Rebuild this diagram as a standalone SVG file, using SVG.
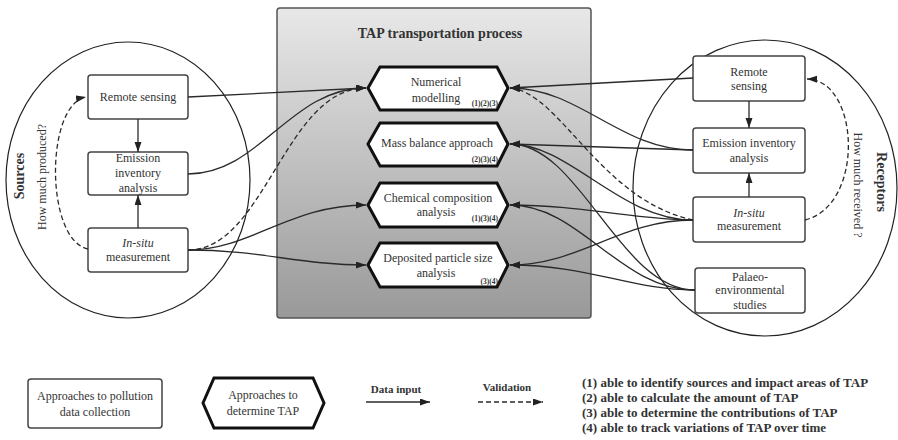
<svg xmlns="http://www.w3.org/2000/svg" width="898" height="440" viewBox="0 0 898 440">
<defs>
<linearGradient id="g" x1="0" y1="0" x2="0" y2="1">
<stop offset="0" stop-color="#e8e8e8"/>
<stop offset="1" stop-color="#999"/>
</linearGradient>
<marker id="ah" markerUnits="userSpaceOnUse" markerWidth="11" markerHeight="8" refX="10" refY="3.5" orient="auto">
<path d="M0,0 L10,3.5 L0,7 z" fill="#222"/>
</marker>
<style>
text{font-family:"Liberation Serif","Times New Roman",serif;fill:#333;text-anchor:middle}
.t{font-size:12px}
.b{font-weight:bold}
.n{font-size:13px;font-weight:bold;text-anchor:start}
.s{font-size:7.5px;font-weight:bold;text-anchor:end}
.box{fill:#fff;stroke:#444;stroke-width:1.5}
.hex{fill:#fff;stroke:#111;stroke-width:3;stroke-linejoin:miter}
.ell{fill:none;stroke:#222;stroke-width:1.2}
.c{fill:none;stroke:#2a2a2a;stroke-width:1.3;marker-end:url(#ah)}
.d{stroke-dasharray:5,3}
</style>
</defs>
<rect width="898" height="440" fill="#fff"/>

<g id="sources-region">
<ellipse class="ell" cx="128" cy="180" rx="122" ry="138"/>
<text class="b" style="font-size:14px" transform="translate(24,176) rotate(-90)">Sources</text>
<text class="t" transform="translate(46,177) rotate(-90)">How much produced?</text>
</g>
<g id="receptors-region">
<ellipse class="ell" cx="765" cy="188" rx="132" ry="148"/>
<text class="b" style="font-size:14px" transform="translate(877,182) rotate(90)">Receptors</text>
<text class="t" transform="translate(854,185) rotate(90)">How much received ?</text>
</g>
<g id="tap-process">
<rect x="277" y="8" width="314" height="310" rx="3" fill="url(#g)" stroke="#555" stroke-width="1.5"/>
<text class="b" style="font-size:14px" x="440" y="38">TAP transportation process</text>
</g>

<g id="src-remote"><rect class="box" x="88" y="75" width="100" height="44" rx="3"/><text class="t" x="138" y="101">Remote sensing</text></g>
<g id="src-emission"><rect class="box" x="88" y="152" width="100" height="43" rx="3"/><text class="t" x="138" y="162">Emission</text><text class="t" x="138" y="177">inventory</text><text class="t" x="138" y="192">analysis</text></g>
<g id="src-insitu"><rect class="box" x="88" y="228" width="100" height="44" rx="3"/><text class="t" x="138" y="247" font-style="italic">In-situ</text><text class="t" x="138" y="261">measurement</text></g>

<g id="rec-remote"><rect class="box" x="693" y="56" width="112" height="45" rx="3"/><text class="t" x="749" y="76">Remote</text><text class="t" x="749" y="90">sensing</text></g>
<g id="rec-emission"><rect class="box" x="693" y="128" width="112" height="45" rx="3"/><text class="t" x="749" y="147">Emission inventory</text><text class="t" x="749" y="162">analysis</text></g>
<g id="rec-insitu"><rect class="box" x="693" y="197" width="112" height="45" rx="3"/><text class="t" x="749" y="217" font-style="italic">In-situ</text><text class="t" x="749" y="230">measurement</text></g>
<g id="rec-palaeo"><rect class="box" x="695" y="268" width="110" height="45" rx="3"/><text class="t" x="750" y="281">Palaeo-</text><text class="t" x="750" y="294">environmental</text><text class="t" x="750" y="309">studies</text></g>

<g id="hex-numerical"><polygon class="hex" points="368,88 380,67 497,67 508,88 497,110 380,110"/><text class="t" x="436" y="86">Numerical</text><text class="t" x="436" y="102">modelling</text><text class="s" x="498" y="106">(1)(2)(3)</text></g>
<g id="hex-massbalance"><polygon class="hex" points="368,144 380,123 497,123 508,144 497,166 380,166"/><text class="t" x="437" y="147">Mass balance approach</text><text class="s" x="498" y="162">(2)(3)(4)</text></g>
<g id="hex-chemical"><polygon class="hex" points="368,205 380,183 497,183 508,205 497,227 380,227"/><text class="t" x="438" y="202">Chemical composition</text><text class="t" x="436" y="216">analysis</text><text class="s" x="498" y="221">(1)(3)(4)</text></g>
<g id="hex-deposited"><polygon class="hex" points="368,265 380,243 497,243 508,265 497,287 380,287"/><text class="t" x="438" y="262">Deposited particle size</text><text class="t" x="436" y="277">analysis</text><text class="s" x="498" y="284">(3)(4)</text></g>

<g id="connectors">
<path class="c" d="M138,119 L138,152"/>
<path class="c" d="M138,228 L138,195"/>
<path class="c" d="M749,101 L749,128"/>
<path class="c" d="M749,197 L749,173"/>
<path class="c d" d="M88,249 C45,240 45,105 86,97"/>
<path class="c d" d="M805,220 C865,205 860,80 807,79"/>

<path class="c" d="M188,97 L366,88"/>
<path class="c" d="M188,174 C260,174 290,88 366,88"/>
<path class="c d" d="M188,250 C265,250 285,88 366,88"/>
<path class="c" d="M188,250 C250,250 290,205 366,205"/>
<path class="c" d="M188,250 C260,250 300,265 366,265"/>

<path class="c" d="M693,78 L510,88"/>
<path class="c" d="M693,150 C620,150 580,88 510,88"/>
<path class="c" d="M693,150 L510,144"/>
<path class="c d" d="M693,220 C600,200 560,92 510,88"/>
<path class="c" d="M693,220 C620,220 570,144 510,144"/>
<path class="c" d="M693,220 C640,220 580,205 510,205"/>
<path class="c" d="M693,220 C620,220 580,265 510,265"/>
<path class="c" d="M695,290 C620,290 580,144 510,144"/>
<path class="c" d="M695,290 C620,290 580,205 510,205"/>
<path class="c" d="M695,290 C630,290 590,265 510,265"/>
</g>

<g id="legend">
<g id="legend-box"><rect class="box" x="28" y="379" width="134" height="49" rx="3"/><text class="t" x="95" y="400">Approaches to pollution</text><text class="t" x="95" y="416">data collection</text></g>
<g id="legend-hex"><polygon class="hex" points="203,403 214,378 313,378 324,403 313,428 214,428"/><text class="t" x="263" y="399">Approaches to</text><text class="t" x="263" y="415">determine TAP</text></g>
<g id="legend-datainput"><text class="b" style="font-size:11px" x="396" y="393">Data input</text><path class="c" d="M366,402 L430,402"/></g>
<g id="legend-validation"><text class="b" style="font-size:11px" x="507" y="391">Validation</text><path class="c d" d="M478,402 L543,402"/></g>
<g id="legend-notes">
<text class="n" x="582" y="387">(1) able to identify sources and impact areas of TAP</text>
<text class="n" x="582" y="402">(2) able to calculate the amount of TAP</text>
<text class="n" x="582" y="417">(3) able to determine the contributions of TAP</text>
<text class="n" x="582" y="432">(4) able to track variations of TAP over time</text>
</g>
</g>
</svg>
